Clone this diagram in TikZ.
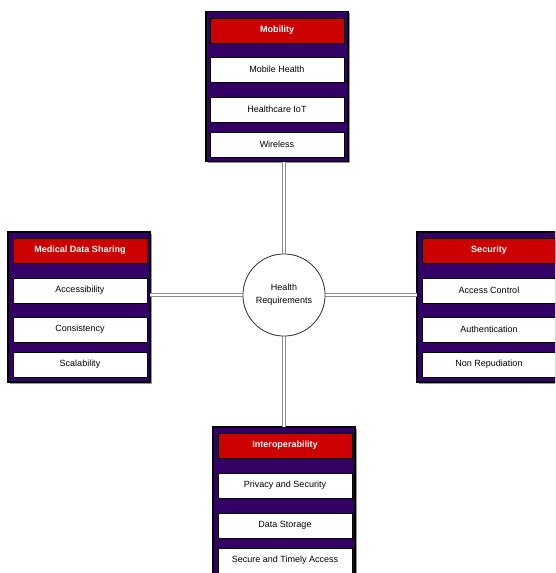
\documentclass[tikz,border=0pt]{standalone}
\usepackage{fontspec}
\setmainfont{Liberation Sans}
\usetikzlibrary{shadows}
\definecolor{panelpurple}{RGB}{51,0,102}
\definecolor{headred}{RGB}{204,0,0}
\definecolor{shadowgray}{RGB}{150,150,150}
\definecolor{conngray}{RGB}{140,140,140}
\begin{document}
\begin{tikzpicture}[x=1pt,y=-1pt,
  panel/.style={draw=black, line width=1.2pt, fill=panelpurple, minimum width=142pt, minimum height=150pt, inner sep=0pt, outer sep=0pt,
    drop shadow={shadow xshift=1.5pt, shadow yshift=-1.5pt, fill=shadowgray, opacity=1}},
  headbox/.style={draw=black, line width=0.8pt, fill=headred, text=white, font=\fontsize{9}{11}\selectfont\bfseries, minimum width=134pt, minimum height=25pt, inner sep=0pt, outer sep=0pt},
  itembox/.style={draw=black, line width=0.8pt, fill=white, text=black, font=\fontsize{9}{11}\selectfont, minimum width=134pt, minimum height=25pt, inner sep=0pt, outer sep=0pt},
  hub/.style={circle, draw=black!80, line width=0.7pt, fill=white, minimum size=82pt, inner sep=0pt, align=center, font=\fontsize{9}{13}\selectfont},
  conn/.style={draw=conngray, line width=0.6pt, double=white, double distance=2.6pt}
]
\clip (0,0) rectangle (555,573);
\fill[white] (0,0) rectangle (555,573);

% hub
\node[hub] (hr) at (284,295) {Health\\Requirements};

% panels
\node[panel] (mob) at (277,86.5) {};
\node[panel] (mds) at (79,307) {};
\node[panel] (sec) at (488,307) {};
\node[panel] (iop) at (284,502) {};

% connectors
\draw[conn] (hr.north) -- (hr.north |- mob.south);
\draw[conn] (hr.south) -- (hr.south |- iop.north);
\draw[conn] (hr.west) -- (hr.west -| mds.east);
\draw[conn] (hr.east) -- (hr.east -| sec.west);
\node[hub] at (hr) {Health\\Requirements};

% Mobility
\node[headbox] (mobh) at (277,30.5) {Mobility};
\node[itembox] (mob1) at (277,69.5) {Mobile Health};
\node[itembox] (mob2) at (277,109.5) {Healthcare IoT};
\node[itembox] (mob3) at (277,144.5) {Wireless};

% Medical Data Sharing
\node[headbox] (mdsh) at (80,250.5) {Medical Data Sharing};
\node[itembox] (mds1) at (80,290.5) {Accessibility};
\node[itembox] (mds2) at (80,329.5) {Consistency};
\node[itembox] (mds3) at (80,364.5) {Scalability};

% Security
\node[headbox] (sech) at (489,250.5) {Security};
\node[itembox] (sec1) at (489,290.5) {Access Control};
\node[itembox] (sec2) at (489,329.5) {Authentication};
\node[itembox] (sec3) at (489,364.5) {Non Repudiation};

% Interoperability
\node[headbox] (ioph) at (285,445.5) {Interoperability};
\node[itembox] (iop1) at (285,485.5) {Privacy and Security};
\node[itembox] (iop2) at (285,525.5) {Data Storage};
\node[itembox] (iop3) at (285,560.5) {Secure and Timely Access};
\end{tikzpicture}
\end{document}
